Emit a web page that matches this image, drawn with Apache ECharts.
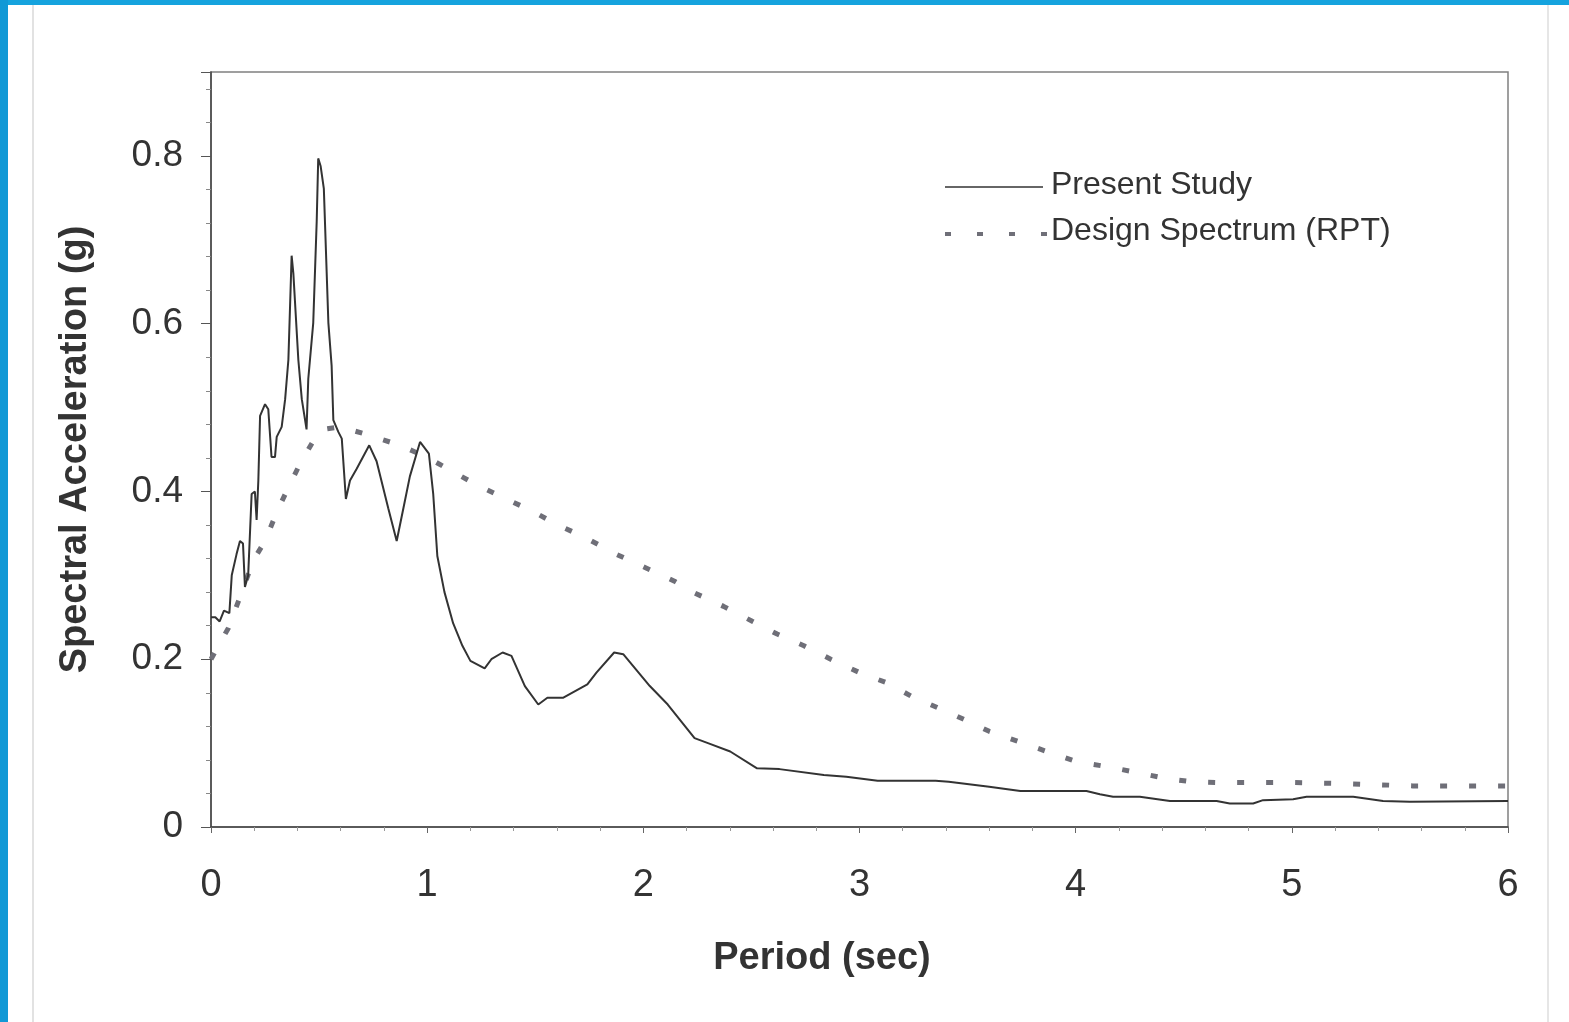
<!DOCTYPE html>
<html>
<head>
<meta charset="utf-8">
<script src="https://cdn.jsdelivr.net/npm/echarts@6/dist/echarts.min.js"></script>
<style>
  html, body { margin: 0; padding: 0; background: #fff; }
  #main { width: 1569px; height: 1022px; }
</style>
</head>
<body>
<div id="main"></div>
<script>
// Present Study: period (sec) / spectral acceleration (g)
var psT = [0, 0.02, 0.04, 0.06, 0.085, 0.096, 0.118, 0.134, 0.148, 0.157, 0.172, 0.188, 0.203, 0.211, 0.219, 0.227, 0.25, 0.265, 0.28, 0.296, 0.304, 0.327, 0.343, 0.358, 0.373, 0.381, 0.389, 0.404, 0.42, 0.442, 0.45, 0.473, 0.489, 0.496, 0.507, 0.522, 0.543, 0.558, 0.566, 0.589, 0.605, 0.624, 0.643, 0.674, 0.732, 0.766, 0.82, 0.859, 0.89, 0.92, 0.967, 1.008, 1.028, 1.047, 1.08, 1.12, 1.163, 1.2, 1.266, 1.297, 1.349, 1.39, 1.452, 1.514, 1.556, 1.628, 1.741, 1.783, 1.865, 1.907, 2.03, 2.113, 2.237, 2.299, 2.402, 2.526, 2.63, 2.835, 2.939, 3.084, 3.352, 3.413, 3.6, 3.744, 4.05, 4.112, 4.173, 4.297, 4.436, 4.652, 4.713, 4.821, 4.867, 5.006, 5.068, 5.284, 5.422, 5.546, 6.0];
var psSa = [0.25, 0.25, 0.245, 0.258, 0.255, 0.3, 0.325, 0.341, 0.338, 0.286, 0.3, 0.397, 0.4, 0.366, 0.413, 0.49, 0.504, 0.498, 0.441, 0.441, 0.465, 0.477, 0.51, 0.557, 0.681, 0.66, 0.66, 0.557, 0.51, 0.474, 0.534, 0.601, 0.722, 0.797, 0.788, 0.761, 0.601, 0.55, 0.485, 0.471, 0.463, 0.391, 0.413, 0.427, 0.455, 0.436, 0.38, 0.341, 0.38, 0.418, 0.459, 0.445, 0.397, 0.323, 0.28, 0.243, 0.216, 0.198, 0.189, 0.2, 0.208, 0.204, 0.168, 0.146, 0.154, 0.154, 0.17, 0.184, 0.208, 0.206, 0.168, 0.146, 0.106, 0.1, 0.09, 0.07, 0.069, 0.062, 0.06, 0.055, 0.055, 0.054, 0.048, 0.043, 0.043, 0.039, 0.036, 0.036, 0.031, 0.031, 0.028, 0.028, 0.032, 0.033, 0.036, 0.036, 0.031, 0.03, 0.031];

// Design Spectrum (RPT)
var dsT = [0, 0.08, 0.134, 0.196, 0.25, 0.304, 0.358, 0.412, 0.473, 0.519, 0.597, 0.72, 0.874, 0.998, 1.122, 1.235, 1.349, 1.483, 1.597, 1.731, 1.876, 2.01, 2.144, 2.237, 2.371, 2.506, 2.619, 2.743, 2.867, 3.001, 3.125, 3.239, 3.363, 3.486, 3.6, 3.744, 3.889, 4.003, 4.143, 4.282, 4.413, 4.536, 4.67, 5.0, 5.2, 5.56, 6.0];
var dsSa = [0.2, 0.237, 0.274, 0.318, 0.341, 0.375, 0.405, 0.433, 0.46, 0.474, 0.477, 0.468, 0.455, 0.441, 0.423, 0.407, 0.393, 0.377, 0.361, 0.345, 0.325, 0.309, 0.293, 0.279, 0.263, 0.245, 0.23, 0.216, 0.2, 0.184, 0.172, 0.156, 0.142, 0.128, 0.114, 0.101, 0.088, 0.078, 0.072, 0.065, 0.058, 0.054, 0.053, 0.053, 0.052, 0.049, 0.049];

var xTicks = [0, 1, 2, 3, 4, 5, 6];
var yTicks = [0, 0.2, 0.4, 0.6, 0.8];
var seriesNames = ['Present Study', 'Design Spectrum (RPT)'];

function zip(a, b) {
  return a.map(function (v, i) { return [v, b[i]]; });
}

var chart = echarts.init(document.getElementById('main'));
var font = '"Liberation Sans", Arial, sans-serif';
var solidColor = '#333';
var dashColor = '#6f6f78';

chart.setOption({
  animation: false,
  backgroundColor: '#fff',
  textStyle: { fontFamily: font },
  grid: {
    left: 211, right: 61, top: 72, bottom: 195,
    show: true, borderColor: '#808080', borderWidth: 1.5, backgroundColor: 'transparent'
  },
  xAxis: {
    type: 'value', min: 0, max: 6, interval: 1,
    name: 'Period (sec)', nameLocation: 'middle', nameGap: 113,
    nameTextStyle: { fontSize: 38, fontWeight: 'bold', color: '#333', padding: [0, 75, 0, 0] },
    axisLine: { lineStyle: { color: '#444', width: 1.5 } },
    axisTick: { show: true, length: 6, lineStyle: { color: '#666' } },
    minorTick: { show: true, splitNumber: 5, length: 4, lineStyle: { color: '#999' } },
    splitLine: { show: false },
    axisLabel: {
      fontSize: 38, color: '#333', margin: 40,
      customValues: xTicks
    }
  },
  yAxis: {
    type: 'value', min: 0, max: 0.9, interval: 0.2,
    name: 'Spectral Acceleration (g)', nameLocation: 'middle', nameGap: 116,
    nameTextStyle: { fontSize: 38, fontWeight: 'bold', color: '#333' },
    axisLine: { show: true, lineStyle: { color: '#444', width: 1.5 } },
    axisTick: { show: true, length: 10, lineStyle: { color: '#555' } },
    minorTick: { show: true, splitNumber: 5, length: 5, lineStyle: { color: '#888' } },
    splitLine: { show: false },
    axisLabel: {
      fontSize: 37, color: '#333', margin: 28,
      formatter: function (v) {
        var r = Math.round(v * 10) / 10;
        return yTicks.indexOf(r) >= 0 && Math.abs(v - r) < 1e-6 ? String(r) : '';
      }
    }
  },
  graphic: [
    // scan frame
    { type: 'rect', shape: { x: 0, y: 0, width: 1569, height: 5 }, style: { fill: '#15a3de' }, silent: true },
    { type: 'rect', shape: { x: 0, y: 0, width: 8, height: 1022 }, style: { fill: '#1199d6' }, silent: true },
    { type: 'line', shape: { x1: 33, y1: 5, x2: 33, y2: 1022 }, style: { stroke: '#e2e2e2', lineWidth: 2 }, silent: true },
    { type: 'line', shape: { x1: 1548, y1: 5, x2: 1548, y2: 1022 }, style: { stroke: '#e6e6e6', lineWidth: 2 }, silent: true },
    // legend
    { type: 'line', shape: { x1: 945, y1: 187, x2: 1043, y2: 187 }, style: { stroke: solidColor, lineWidth: 1.5 }, silent: true },
    { type: 'text', x: 1051, y: 185, style: { text: seriesNames[0], font: '32px ' + font, fill: '#333', verticalAlign: 'middle' }, silent: true },
    { type: 'line', shape: { x1: 945, y1: 234, x2: 1048, y2: 234 }, style: { stroke: dashColor, lineWidth: 4, lineDash: [6, 26] }, silent: true },
    { type: 'text', x: 1051, y: 231, style: { text: seriesNames[1], font: '32px ' + font, fill: '#333', verticalAlign: 'middle' }, silent: true }
  ],
  series: [
    {
      name: seriesNames[0], type: 'line', symbol: 'none',
      data: zip(psT, psSa),
      lineStyle: { color: solidColor, width: 2 },
      z: 3
    },
    {
      name: seriesNames[1], type: 'line', symbol: 'none',
      data: zip(dsT, dsSa),
      lineStyle: { color: dashColor, width: 5, type: [7, 22] },
      z: 2
    }
  ]
});
</script>
</body>
</html>
